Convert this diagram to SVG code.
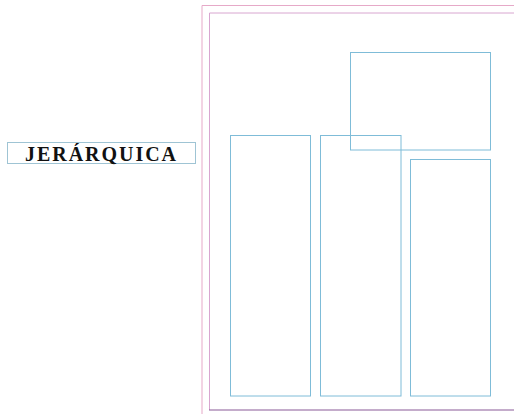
<svg xmlns="http://www.w3.org/2000/svg" width="514" height="414" viewBox="0 0 514 414">
<style>
.blue{fill:none;stroke:#7fbcd8;stroke-width:1}
.label{fill:none;stroke:#9fc4d4;stroke-width:1}
.txt{font-family:"Liberation Serif",serif;font-weight:bold;font-size:20px;fill:#111}
</style>
<rect width="514" height="414" fill="#ffffff"/>
<g id="page">
<path d="M202,414 V5.5 H514" fill="none" stroke="#e6a9c8" stroke-width="1"/>
<path d="M209.5,410 V13 H514" fill="none" stroke="#d8a6d0" stroke-width="1"/>
<line x1="209" y1="410" x2="514" y2="410" stroke="#8a5a98" stroke-width="1.2"/>
</g>
<g id="label">
<rect x="7.5" y="142.5" width="188" height="21" class="label"/>
<text x="25" y="160.5" class="txt" textLength="151" lengthAdjust="spacing">JERÁRQUICA</text>
</g>
<g id="box-top"><rect x="350.5" y="52.5" width="140" height="97.5" class="blue"/></g>
<g id="col-left"><rect x="230.5" y="135.5" width="80" height="260.5" class="blue"/></g>
<g id="col-middle"><rect x="320.5" y="135.5" width="80.5" height="260.5" class="blue"/></g>
<g id="col-right"><rect x="410.5" y="159.5" width="80" height="236.5" class="blue"/></g>
<g id="connectors"></g>
</svg>
